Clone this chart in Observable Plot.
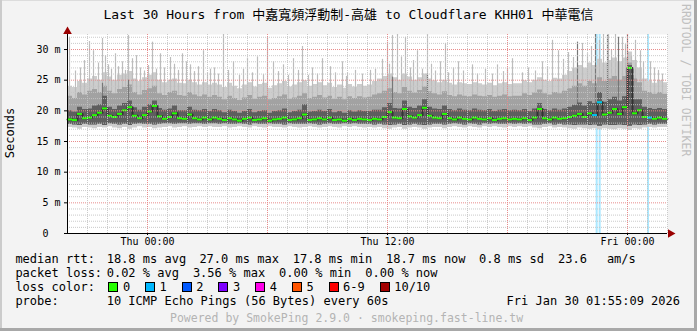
<!DOCTYPE html>
<html><head><meta charset="utf-8">
<script src="https://cdn.jsdelivr.net/npm/d3@7"></script>
<script src="https://cdn.jsdelivr.net/npm/@observablehq/plot@0.6"></script>
<style>
body{margin:0;background:#f3f3f3}
#wrap{position:relative;width:697px;height:331px;background:#f3f3f3;overflow:hidden;font-family:"DejaVu Sans Mono",monospace;color:#000;box-sizing:border-box}
.t{position:absolute;white-space:pre;font-size:12px;line-height:14px}
.sw{position:absolute;width:8px;height:8px;border:1px solid #000}
#plot{position:absolute;left:0;top:0}
</style></head><body><div id="wrap"><div id="plot"></div></div>
<script>
// ---------- data ----------
const titleText = "Last 30 Hours from 中嘉寬頻浮動制-高雄 to Cloudflare KHH01 中華電信";
const startTime = "2026-01-28T20:00:00Z";
const endTime = "2026-01-30T02:00:00Z";
const stepMinutes = 15;
const xLabelTicks = ["2026-01-29T00:00:00Z", "2026-01-29T12:00:00Z", "2026-01-30T00:00:00Z"];
const yTicks = [0, 5, 10, 15, 20, 25, 30];

// median rtt (ms), one value per 15 minutes
const median = [
18.6,18.5,19.5,18.8,18.9,19.3,19.7,20.4,19.2,19.0,19.5,20.1,20.6,19.2,18.8,19.3,19.9,20.8,19.1,18.7,19.0,19.6,18.8,18.7,19.4,18.8,18.6,18.9,18.6,18.9,
18.7,18.5,18.8,18.6,18.4,18.7,18.9,18.5,18.6,18.8,18.4,18.6,18.7,18.9,18.5,18.6,18.8,19.4,18.5,18.6,18.8,18.6,18.9,18.5,18.6,18.4,18.7,18.5,18.7,18.6,
18.5,18.7,18.6,19.0,19.8,18.9,18.8,20.3,19.1,18.9,19.3,20.5,19.2,18.9,18.8,19.5,18.8,18.6,18.9,18.7,18.6,18.9,18.7,18.6,18.8,18.5,18.7,18.8,18.6,18.7,
18.6,18.8,18.5,18.9,20.3,18.8,18.6,18.9,18.7,18.8,19.0,19.2,19.5,19.0,19.6,19.3,21.4,19.4,19.7,20.3,19.5,20.6,27.0,19.6,20.1,19.0,18.9,18.7,18.9,18.7];
// top of the dark smoke band
const hiD = [
20.0,19.8,20.6,20.2,20.3,20.8,21.0,22.4,20.6,20.2,20.8,21.2,21.6,20.5,20.1,20.6,21.0,21.6,20.4,20.1,20.3,20.8,20.0,20.0,20.6,20.1,20.0,20.2,19.9,20.2,
20.0,19.7,20.1,19.9,19.6,19.9,20.2,19.7,19.9,20.0,19.6,19.9,20.0,20.3,19.7,19.9,20.1,21.0,19.8,19.9,20.1,19.9,20.2,19.7,19.9,19.6,20.0,19.8,20.0,19.9,
19.9,20.1,20.1,20.5,21.2,20.4,20.3,21.6,20.6,20.4,20.8,21.8,20.6,20.3,20.2,20.8,20.2,20.0,20.3,20.1,20.0,20.3,20.1,20.0,20.2,19.9,20.1,20.2,20.0,20.1,
20.0,20.2,19.9,20.3,21.2,20.2,20.0,20.3,20.1,20.3,20.6,20.9,21.3,20.8,21.5,21.2,23.0,21.4,21.8,22.2,21.6,22.3,27.4,21.8,21.8,20.6,20.4,20.2,20.4,20.2];
// top of the medium smoke band
const hiM = [
22.4,22.0,23.0,22.6,23.2,23.5,23.0,24.0,23.2,22.8,23.5,23.8,24.2,23.0,22.6,23.3,23.6,24.0,22.8,22.5,23.0,23.2,22.5,22.4,23.0,22.6,22.3,22.6,22.2,22.5,
22.2,21.8,22.4,22.0,21.7,22.1,22.5,21.9,22.2,22.4,21.8,22.0,22.3,22.6,21.9,22.1,22.4,22.8,22.0,22.2,22.5,22.1,22.4,21.9,22.2,21.8,22.3,22.0,22.3,22.1,
22.2,22.6,22.8,23.2,23.6,23.0,22.8,23.8,23.2,22.9,23.3,23.9,23.1,22.8,22.6,23.1,22.5,22.3,22.6,22.4,22.3,22.6,22.4,22.3,22.5,22.2,22.4,22.6,22.3,22.4,
22.4,22.8,22.5,22.9,23.4,22.8,22.6,23.0,22.8,23.2,23.6,24.0,24.4,24.0,24.8,24.4,25.4,24.8,25.2,25.6,25.0,25.6,27.8,25.2,24.6,23.2,23.0,22.7,23.0,22.7];
// top of the light smoke band
const hiL = [
24.0,23.8,24.8,24.5,25.2,25.6,25.0,26.2,25.5,25.0,25.8,26.0,26.4,25.2,24.8,25.4,25.8,26.2,25.0,24.6,25.0,25.2,24.5,24.4,25.0,24.6,24.2,24.6,24.2,24.5,
24.2,23.8,24.5,24.0,23.6,24.2,24.6,23.9,24.3,24.5,23.7,24.1,24.4,24.8,23.9,24.2,24.6,24.9,24.0,24.3,24.6,24.1,24.5,23.8,24.2,23.7,24.3,23.9,24.3,24.0,
24.2,24.8,25.2,25.6,26.0,25.4,25.0,26.0,25.5,25.0,25.4,26.0,25.2,24.9,24.6,25.0,24.5,24.2,24.6,24.4,24.3,24.6,24.4,24.2,24.5,24.1,24.4,24.6,24.3,24.4,
24.4,24.9,24.6,25.0,25.4,25.0,24.8,25.3,25.2,25.8,26.4,27.0,27.4,27.0,27.8,27.4,28.4,27.8,28.2,28.6,28.0,28.6,29.6,28.2,27.0,25.2,24.8,24.5,24.9,24.6];
// bottom of the light smoke band (fastest ping)
const lo = [
17.3,17.2,17.0,17.3,17.2,17.1,17.3,17.2,17.4,17.2,17.1,17.3,17.0,17.2,17.4,17.2,17.3,17.1,17.2,17.3,17.4,17.2,17.3,17.4,17.2,17.3,17.4,17.3,17.4,17.3,
17.3,17.4,17.2,17.3,17.4,17.3,17.2,17.4,17.3,17.2,17.4,17.3,17.3,17.2,17.4,17.3,17.2,17.3,17.4,17.3,17.2,17.3,17.4,17.3,17.2,17.4,17.3,17.4,17.3,17.2,
17.3,17.2,17.3,17.1,17.0,17.2,17.3,17.0,17.2,17.3,17.2,17.0,17.2,17.3,17.3,17.1,17.3,17.4,17.3,17.2,17.4,17.3,17.2,17.4,17.3,17.4,17.3,17.2,17.4,17.3,
17.4,17.3,17.4,17.2,17.1,17.3,17.4,17.2,17.3,17.2,17.1,17.0,17.2,17.1,17.0,17.1,16.9,17.1,17.0,16.9,17.1,17.0,16.8,17.1,17.0,17.2,17.3,17.2,17.3,17.3];
// bottom of the dark/medium smoke bands
const lo2 = [
17.8,17.7,17.6,17.8,17.7,17.7,17.8,17.6,17.9,17.8,17.7,17.8,17.6,17.8,17.9,17.8,17.8,17.7,17.8,17.9,17.9,17.8,17.9,17.9,17.8,17.9,17.9,17.8,17.9,17.9,
17.8,17.9,17.8,17.8,17.9,17.8,17.7,17.9,17.8,17.8,17.9,17.8,17.8,17.7,17.9,17.8,17.8,17.8,17.9,17.8,17.7,17.8,17.9,17.8,17.8,17.9,17.8,17.9,17.8,17.8,
17.8,17.7,17.8,17.7,17.6,17.7,17.8,17.6,17.7,17.8,17.7,17.6,17.7,17.8,17.8,17.7,17.8,17.9,17.8,17.7,17.9,17.8,17.7,17.9,17.8,17.9,17.8,17.8,17.9,17.8,
17.9,17.8,17.9,17.7,17.7,17.8,17.9,17.7,17.8,17.7,17.7,17.6,17.7,17.7,17.6,17.7,17.5,17.7,17.6,17.6,17.7,17.6,17.5,17.7,17.6,17.7,17.8,17.7,17.8,17.8];

// single slow pings (light smoke spikes): [time, ms]
const spikes = [
["2026-01-28T20:06Z",32.0],["2026-01-28T20:24Z",26.5],["2026-01-28T20:39Z",27.0],["2026-01-28T20:51Z",28.2],["2026-01-28T21:06Z",31.3],
["2026-01-28T21:18Z",29.8],["2026-01-28T21:33Z",27.8],["2026-01-28T21:45Z",31.8],["2026-01-28T21:54Z",29.0],["2026-01-28T22:03Z",27.5],
["2026-01-28T22:12Z",26.8],["2026-01-28T22:24Z",29.3],["2026-01-28T22:33Z",27.2],["2026-01-28T22:45Z",28.0],["2026-01-28T22:54Z",26.6],
["2026-01-28T23:03Z",32.3],["2026-01-28T23:15Z",28.5],["2026-01-28T23:27Z",29.0],["2026-01-28T23:39Z",27.0],["2026-01-28T23:51Z",26.5],
["2026-01-29T00:03Z",27.4],["2026-01-29T00:15Z",31.2],["2026-01-29T00:27Z",26.8],["2026-01-29T00:39Z",29.3],["2026-01-29T00:51Z",27.0],
["2026-01-29T01:09Z",28.7],["2026-01-29T01:21Z",27.6],["2026-01-29T01:33Z",26.6],["2026-01-29T01:45Z",29.3],["2026-01-29T01:57Z",28.0],
["2026-01-29T02:09Z",27.5],["2026-01-29T02:21Z",26.4],["2026-01-29T02:33Z",27.2],["2026-01-29T02:48Z",29.8],["2026-01-29T03:00Z",26.2],
["2026-01-29T03:09Z",26.8],["2026-01-29T03:21Z",27.0],["2026-01-29T03:33Z",26.0],["2026-01-29T03:48Z",32.6],["2026-01-29T04:03Z",26.6],
["2026-01-29T04:18Z",28.0],["2026-01-29T04:36Z",25.8],["2026-01-29T04:48Z",26.8],["2026-01-29T05:00Z",28.6],["2026-01-29T05:15Z",26.2],
["2026-01-29T05:30Z",28.8],["2026-01-29T05:48Z",25.9],["2026-01-29T06:00Z",32.0],["2026-01-29T06:18Z",28.0],["2026-01-29T06:33Z",26.4],
["2026-01-29T06:48Z",27.5],["2026-01-29T07:03Z",25.8],["2026-01-29T07:18Z",28.5],["2026-01-29T07:33Z",26.6],["2026-01-29T07:45Z",30.5],
["2026-01-29T08:03Z",25.8],["2026-01-29T08:15Z",27.0],["2026-01-29T08:30Z",26.0],["2026-01-29T08:45Z",28.5],["2026-01-29T09:09Z",27.2],
["2026-01-29T09:24Z",26.2],["2026-01-29T09:45Z",28.0],["2026-01-29T09:57Z",25.6],["2026-01-29T10:00Z",26.2],["2026-01-29T10:24Z",26.6],
["2026-01-29T10:45Z",26.0],["2026-01-29T11:09Z",26.6],["2026-01-29T11:24Z",26.8],["2026-01-29T11:45Z",28.4],["2026-01-29T12:00Z",31.2],
["2026-01-29T12:06Z",27.6],["2026-01-29T12:15Z",32.3],["2026-01-29T12:30Z",32.6],["2026-01-29T12:42Z",28.8],["2026-01-29T12:54Z",32.0],
["2026-01-29T13:09Z",27.0],["2026-01-29T13:18Z",28.2],["2026-01-29T13:30Z",29.8],["2026-01-29T13:45Z",26.8],["2026-01-29T14:00Z",32.8],
["2026-01-29T14:12Z",27.6],["2026-01-29T14:24Z",26.5],["2026-01-29T14:39Z",28.0],["2026-01-29T14:54Z",31.0],["2026-01-29T15:03Z",26.2],
["2026-01-29T15:18Z",27.0],["2026-01-29T15:33Z",28.0],["2026-01-29T15:48Z",26.5],["2026-01-29T16:15Z",27.5],["2026-01-29T16:30Z",26.0],
["2026-01-29T16:54Z",26.8],["2026-01-29T17:15Z",26.0],["2026-01-29T17:30Z",27.5],["2026-01-29T17:48Z",26.4],["2026-01-29T18:00Z",27.0],
["2026-01-29T18:15Z",28.5],["2026-01-29T18:45Z",26.2],["2026-01-29T19:03Z",27.0],["2026-01-29T19:24Z",26.5],["2026-01-29T19:45Z",28.0],
["2026-01-29T20:00Z",27.2],["2026-01-29T20:15Z",31.5],["2026-01-29T20:33Z",29.8],["2026-01-29T20:48Z",28.4],["2026-01-29T21:03Z",29.5],
["2026-01-29T21:18Z",28.7],["2026-01-29T21:45Z",31.0],["2026-01-29T22:00Z",29.3],["2026-01-29T22:12Z",30.5],["2026-01-29T22:36Z",31.5],
["2026-01-29T22:48Z",32.8],["2026-01-29T23:03Z",32.5],["2026-01-29T23:12Z",30.0],["2026-01-29T23:24Z",32.8],["2026-01-29T23:45Z",32.0],
["2026-01-29T23:54Z",30.8],["2026-01-30T00:12Z",29.0],["2026-01-30T00:24Z",31.5],["2026-01-30T00:39Z",29.8],["2026-01-30T00:48Z",28.0],
["2026-01-30T01:09Z",28.0],["2026-01-30T01:21Z",27.0],["2026-01-30T01:33Z",26.6],["2026-01-30T01:45Z",26.0]];
// slow pings inside the darker smoke
const darkSpikes = [
["2026-01-28T21:45Z",24.5],["2026-01-28T23:03Z",25.0],["2026-01-29T12:15Z",25.5],["2026-01-29T14:00Z",26.0],
["2026-01-29T21:30Z",31.2],["2026-01-29T22:24Z",32.5],["2026-01-29T23:00Z",32.3],["2026-01-29T23:33Z",32.0],["2026-01-30T00:00Z",32.5]];
// packet loss events: [time, lost pings of 10]
const lossEvents = [["2026-01-29T22:26Z",1],["2026-01-29T22:35Z",1],["2026-01-30T01:00Z",1]];

const lossLabels = ["0","1","2","3","4","5","6-9","10/10"];
const lossColors = ["#26ff00","#00b8ff","#0059ff","#7e00ff","#ff00ea","#ff5500","#ff0000","#a10000"];

const legend1 = [["median rtt:",16],["18.8 ms avg",107.3],["27.0 ms max",200],["17.8 ms min",293.3],["18.7 ms now",386.7],["0.8 ms sd",479.6],["23.6",558.6],["am/s",607.5]];
const legend2 = [["packet loss:",16],["0.02 % avg",107.3],["3.56 % max",193.5],["0.00 % min",279.7],["0.00 % now",365.9]];
const probeText = "10 ICMP Echo Pings (56 Bytes) every 60s";
const dateText = "Fri Jan 30 01:55:09 2026";
const footer = "Powered by SmokePing 2.9.0 · smokeping.fast-line.tw";
const watermark = "RRDTOOL / TOBI OETIKER";

// ---------- build ----------
const t0 = new Date(startTime), t1 = new Date(endTime);
const stepMs = stepMinutes * 60000;
const rows = median.map((m, i) => ({t: new Date(+t0 + i * stepMs), t2: new Date(+t0 + (i + 1) * stepMs), m, lo: lo[i], lo2: lo2[i], hiD: hiD[i], hiM: hiM[i], hiL: hiL[i]}));
const rowsC = rows.concat([{...rows[rows.length - 1], t: rows[rows.length - 1].t2}]);
const sp = spikes.map(([t, v]) => ({t: new Date(t), v}));
const dsp = darkSpikes.map(([t, v]) => ({t: new Date(t), v}));
const loss = lossEvents.map(([t, n]) => ({t: new Date(t), t2: new Date(+new Date(t) + 6 * 60000), n}));
const lossSegs = loss.map(d => {
  const i = Math.floor((d.t - t0) / stepMs);
  return {x1: rows[i].t, x2: rows[i].t2, m: median[i], c: lossColors[Math.min(d.n, 6)]};
});
const yTop = 32.45;
const hours = d3.utcHour.range(new Date(+t0 + 3600000), new Date(+t1 + 1));
const minorX = hours.filter(d => d.getUTCHours() % 6 !== 0);
const majorX = hours.filter(d => d.getUTCHours() % 6 === 0);
const minorY = d3.range(1, 33).filter(d => d % 5 !== 0);
const majorY = d3.range(5, 33, 5);
const fmt = d3.utcFormat("%a %H:%M");
const dash = "1,1";

const chart = Plot.plot({
  width: 697, height: 250,
  marginLeft: 67, marginRight: 30, marginTop: 34, marginBottom: 17,
  style: {background: "transparent", fontFamily: "DejaVu Sans Mono, monospace", fontSize: "10px", color: "#000", overflow: "visible"},
  x: {type: "utc", domain: [t0, t1]},
  y: {domain: [0, yTop]},
  marks: [
    Plot.frame({fill: "white", stroke: "none"}),
    Plot.rect(loss, {x1: "t", x2: "t2", y1: 0, y2: yTop, fill: lossColors[1], fillOpacity: 0.33}),
    Plot.areaY(rowsC, {x: "t", y1: "lo", y2: "hiL", fill: "#cdcdcd", curve: "step-after"}),
    Plot.ruleX(sp, {x: "t", y1: 20, y2: "v", stroke: "#bcbcbc", strokeWidth: 1.2, clip: true}),
    Plot.areaY(rowsC, {x: "t", y1: "lo2", y2: "hiM", fill: "#a2a2a2", curve: "step-after"}),
    Plot.ruleX(dsp, {x: "t", y1: 20, y2: "v", stroke: "#777", strokeWidth: 1.2, clip: true}),
    Plot.areaY(rowsC, {x: "t", y1: "lo2", y2: "hiD", fill: "#5e5e5e", curve: "step-after"}),
    Plot.lineY(rowsC, {x: "t", y: "m", stroke: "#333", strokeWidth: 2, curve: "step-after"}),
    Plot.ruleY(rows, {x1: "t", x2: "t2", y: "m", stroke: lossColors[0], strokeWidth: 2}),
    Plot.ruleY(lossSegs, {x1: "x1", x2: "x2", y: "m", stroke: "c", strokeWidth: 2}),
    Plot.ruleY(minorY, {stroke: "#c4c4c4", strokeDasharray: dash, strokeWidth: 1, strokeOpacity: 0.9}),
    Plot.ruleY(majorY, {stroke: "#e88c8c", strokeDasharray: dash, strokeWidth: 1}),
    Plot.ruleX(minorX, {stroke: "#c4c4c4", strokeDasharray: dash, strokeWidth: 1, strokeOpacity: 0.9}),
    Plot.ruleX(majorX, {stroke: "#e88c8c", strokeDasharray: dash, strokeWidth: 1}),
    Plot.ruleY([0], {stroke: "#000", strokeWidth: 1}),
    Plot.ruleX([t0], {y1: 0, y2: yTop, stroke: "#000", strokeWidth: 1}),
    Plot.dot([t1], {x: d => d, y: 0, dx: 3, symbol: "triangle", r: 3.2, rotate: 90, fill: "#9a0000", stroke: "none"}),
    Plot.dot([t0], {x: d => d, y: yTop, dy: -3, symbol: "triangle", r: 3.2, fill: "#9a0000", stroke: "none"}),
    Plot.axisY(yTicks, {tickSize: 3, tickFormat: () => "", stroke: "#000"}),
    Plot.text(yTicks, {y: d => d, frameAnchor: "left", dx: -19, textAnchor: "end", text: d => String(d), fill: "#000", fontSize: 10}),
    Plot.text(yTicks.filter(d => d > 0), {y: d => d, frameAnchor: "left", dx: -7, textAnchor: "end", text: () => "m", fill: "#000", fontSize: 10}),
    Plot.axisX(xLabelTicks.map(d => new Date(d)), {tickSize: 2, tickPadding: 2.5, tickFormat: fmt, fontSize: 10, fill: "#000", stroke: "#000"})
  ]
});
document.getElementById("plot").appendChild(chart);

const wrap = document.getElementById("wrap");
function addText(txt, x, y, extra) {
  const el = document.createElement("div");
  el.className = "t";
  el.textContent = txt;
  el.style.left = x + "px";
  el.style.top = y + "px";
  if (extra) Object.assign(el.style, extra);
  wrap.appendChild(el);
  return el;
}
// title (centered over the image)
addText(titleText, 348.5, 7.3, {fontSize: "13px", lineHeight: "16px", transform: "translateX(-50%)", fontFamily: '"DejaVu Sans Mono","Noto Sans CJK TC",monospace'});
// y label
addText("Seconds", 10, 133, {fontSize: "12px", transform: "translate(-50%,-50%) rotate(-90deg)"});
// watermark
addText(watermark, 686, 4, {fontSize: "11.5px", color: "#c0c0c0", transformOrigin: "0 0", transform: "rotate(90deg) translate(0,-50%)"});
// legend
legend1.forEach(([s, x]) => addText(s, x - 0.6, 252.2));
legend2.forEach(([s, x]) => addText(s, x - 0.6, 266.2));
addText("loss color:", 15.4, 280.2);
let sx = 108.3;
lossLabels.forEach((lab, i) => {
  const b = document.createElement("div");
  b.className = "sw";
  b.style.left = sx + "px";
  b.style.top = "281.7px";
  b.style.background = lossColors[i];
  wrap.appendChild(b);
  addText(lab, sx + 14.6, 280.2);
  sx += 15.3 + lab.length * 7.2 + 14.2;
});
addText("probe:", 15.4, 294.2);
addText(probeText, 106.7, 294.2);
addText(dateText, 680, 294.2, {transform: "translateX(-100%)"});
addText(footer, 170, 311, {fontSize: "11.5px", color: "#b4b4b4"});
// frame shading
const edges = [
  {left: "0", top: "0", width: "697px", height: "1px", background: "#dcdcdc"},
  {left: "0", top: "0", width: "2px", height: "331px", background: "#cbcbcb"},
  {left: "694px", top: "0", width: "3px", height: "331px", background: "#a8a8a8"},
  {left: "0", top: "328px", width: "697px", height: "3px", background: "#a8a8a8"}
];
edges.forEach(s => { const e = document.createElement("div"); e.style.position = "absolute"; Object.assign(e.style, s); wrap.appendChild(e); });
</script></body></html>
